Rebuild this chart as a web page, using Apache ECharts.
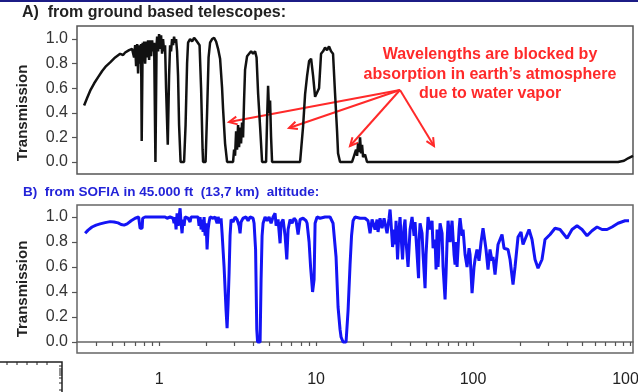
<!DOCTYPE html>
<html>
<head>
<meta charset="utf-8">
<script src="https://cdn.jsdelivr.net/npm/echarts@6/dist/echarts.min.js"></script>
<style>
  html, body { margin: 0; padding: 0; background: #fff; }
  #chart { width: 638px; height: 392px; }
</style>
</head>
<body>
<div id="chart"></div>
<script>
// panel A: ground based telescopes (wavelength in micron, transmission)
const aWave = [0.333, 0.348, 0.364, 0.386, 0.409, 0.434, 0.460, 0.488, 0.525, 0.565, 0.590, 0.608, 0.644, 0.673,
  0.683, 0.693, 0.704, 0.714, 0.725, 0.735, 0.746, 0.757, 0.768, 0.775, 0.786, 0.791, 0.803, 0.815, 0.827, 0.839,
  0.851, 0.864, 0.877, 0.890, 0.903, 0.916, 0.930, 0.948, 0.964, 0.972, 0.986, 1.000, 1.015, 1.030, 1.045, 1.060,
  1.076, 1.092, 1.108, 1.136, 1.158, 1.175, 1.192, 1.210, 1.228, 1.246, 1.264, 1.283, 1.302, 1.321, 1.341, 1.371,
  1.443, 1.475, 1.508, 1.530, 1.576, 1.623, 1.671, 1.721, 1.772, 1.811, 1.852, 1.893, 1.907, 1.978, 2.022, 2.067,
  2.113, 2.176, 2.241, 2.308, 2.376, 2.447, 2.520, 2.557, 2.633, 2.712, 2.961, 3.005, 3.049, 3.095, 3.140, 3.186,
  3.233, 3.281, 3.329, 3.378, 3.428, 3.479, 3.530, 3.636, 3.744, 3.856, 3.970, 4.089, 4.179, 4.273, 4.400, 4.531,
  4.805, 4.876, 4.948, 5.021, 5.095, 5.170, 5.247, 7.912, 8.268, 8.514, 8.768, 9.029, 9.298, 9.575, 9.86, 10.15,
  10.45, 10.76, 11.08, 11.41, 11.75, 12.10, 12.46, 12.83, 13.21, 13.61, 13.81, 14.22, 16.96, 17.46, 17.98, 18.25,
  18.52, 18.79, 19.07, 19.35, 19.64, 19.93, 20.52, 21.13, 839, 916, 972, 1045];
const aTrans = [0.46, 0.52, 0.58, 0.64, 0.69, 0.74, 0.78, 0.81, 0.85, 0.88, 0.87, 0.89, 0.91, 0.92,
  0.93, 0.85, 0.95, 0.78, 0.96, 0.72, 0.95, 0.80, 0.96, 0.17, 0.97, 0.82, 0.98, 0.80, 0.98, 0.85,
  0.99, 0.83, 0.99, 0.86, 0.99, 0.90, 0.97, 0.0, 0.95, 1.02, 0.90, 1.04, 0.92, 1.03, 0.88, 1.00,
  0.90, 0.95, 0.60, 0.14, 0.70, 0.95, 0.90, 1.00, 0.95, 1.02, 0.97, 1.00, 0.90, 0.70, 0.30, 0.0,
  0.0, 0.30, 0.80, 0.97, 1.00, 0.98, 1.01, 0.99, 1.00, 0.95, 0.60, 0.10, 0.0, 0.0, 0.40, 0.85,
  0.97, 1.00, 1.01, 0.98, 0.92, 0.84, 0.60, 0.43, 0.15, 0.0, 0.0, 0.10, 0.05, 0.25, 0.10, 0.30,
  0.12, 0.28, 0.15, 0.32, 0.20, 0.50, 0.75, 0.86, 0.88, 0.90, 0.88, 0.90, 0.85, 0.56, 0.29, 0.0,
  0.0, 0.35, 0.62, 0.40, 0.50, 0.20, 0.0, 0.0, 0.29, 0.55, 0.70, 0.82, 0.84, 0.70, 0.53, 0.52,
  0.60, 0.88, 0.90, 0.93, 0.91, 0.94, 0.90, 0.88, 0.56, 0.25, 0.07, 0.0, 0.0, 0.05, 0.10, 0.05,
  0.15, 0.08, 0.20, 0.07, 0.14, 0.04, 0.06, 0.0, 0.0, 0.01, 0.03, 0.05];

// panel B: SOFIA at 45.000 ft
const bWave = [0.338, 0.353, 0.374, 0.397, 0.421, 0.453, 0.488, 0.517, 0.548, 0.573, 0.599, 0.626, 0.664, 0.704,
  0.741, 0.752, 0.757, 0.780, 0.786, 0.815, 0.877, 0.944, 1.015, 1.092, 1.125, 1.153, 1.175, 1.228, 1.246, 1.264,
  1.283, 1.302, 1.321, 1.341, 1.361, 1.381, 1.401, 1.422, 1.443, 1.464, 1.530, 1.576, 1.599, 1.696, 1.772, 1.798,
  1.825, 1.852, 1.879, 1.907, 1.935, 1.964, 1.993, 2.022, 2.052, 2.082, 2.113, 2.208, 2.274, 2.342, 2.376, 2.447,
  2.483, 2.520, 2.595, 2.672, 2.712, 2.751, 2.792, 2.833, 2.875, 2.961, 3.049, 3.140, 3.233, 3.281, 3.329, 3.428,
  3.583, 3.689, 3.799, 3.970, 4.029, 4.119, 4.192, 4.241, 4.400, 4.465, 4.531, 4.598, 4.735, 4.876, 5.021, 5.170,
  5.324, 5.483, 5.564, 5.729, 5.900, 5.987, 6.166, 6.350, 6.510, 6.635, 6.833, 7.036, 7.245, 7.461, 7.683, 7.912,
  8.268, 8.640, 8.768, 9.029, 9.230, 9.504, 9.716, 9.86, 10.15, 10.60, 11.41, 12.28, 12.83, 13.41, 13.81, 14.22,
  14.43, 14.86, 15.53, 15.99, 16.47, 16.83, 17.21, 17.72, 19.07, 20.52, 21.44, 22.08, 22.74, 23.76, 24.47, 24.83,
  25.57, 26.33, 27.12, 28.33, 29.18, 29.61, 30.05, 30.72, 31.40, 31.86, 32.33, 33.05, 33.78, 34.28, 34.79, 35.57,
  36.36, 36.89, 37.44, 38.56, 39.70, 40.89, 42.11, 42.73, 44.98, 45.31, 45.98, 47.35, 48.05, 49.48, 50.21, 51.70,
  53.24, 54.83, 55.64, 57.29, 58.14, 59.00, 59.87, 61.66, 63.50, 64.43, 66.35, 67.33, 68.33, 69.34, 71.40, 73.52,
  75.71, 76.83, 77.97, 79.12, 81.48, 82.68, 85.14, 86.40, 88.97, 91.62, 94.35, 95.75, 98.6, 101.5, 103.0, 106.0,
  109.2, 110.8, 112.5, 115.8, 119.2, 121.0, 124.6, 128.3, 132.1, 134.1, 138.1, 144.3, 153.0, 157.6, 167.1, 172.1,
  179.8, 185.2, 193.5, 202.2, 208.2, 220.8, 227.4, 237.6, 248.3, 259.5, 275.1, 287.5, 309.5, 332.9, 358.3, 397.0,
  427.3, 459.8, 494.8, 532.4, 572.9, 616.6, 663.5, 714.0, 768.3, 839.0, 929.8, 986.0];
const bTrans = [0.87, 0.895, 0.92, 0.935, 0.945, 0.955, 0.963, 0.96, 0.953, 0.94, 0.935, 0.945, 0.97, 0.99,
  1.0, 0.99, 0.91, 0.91, 0.99, 1.0, 1.0, 1.0, 1.0, 1.0, 0.99, 0.975, 1.0, 0.99, 0.95, 1.0,
  0.9, 1.03, 0.93, 1.0, 1.07, 0.95, 0.87, 0.98, 0.93, 1.0, 0.99, 0.96, 1.0, 1.0, 1.0, 0.93,
  1.0, 0.9, 0.98, 0.88, 1.0, 0.85, 0.95, 0.74, 0.9, 0.96, 1.0, 0.99, 1.0, 0.95, 1.0, 0.95,
  0.99, 0.87, 0.6, 0.25, 0.11, 0.3, 0.55, 0.85, 0.98, 0.96, 1.0, 0.98, 0.93, 0.87, 0.96, 0.99,
  1.0, 0.97, 1.0, 0.99, 0.95, 0.74, 0.1, 0.0, 0.0, 0.5, 0.85, 0.95, 1.0, 0.97, 1.0, 0.95,
  1.0, 1.03, 0.93, 0.98, 0.79, 0.95, 0.98, 0.85, 0.66, 0.9, 0.98, 0.95, 0.99, 0.97, 0.86, 0.98,
  0.99, 0.97, 0.95, 0.8, 0.6, 0.4, 0.5, 0.95, 1.0, 0.99, 1.0, 1.0, 0.95, 0.68, 0.28, 0.1,
  0.04, 0.0, 0.0, 0.25, 0.62, 0.85, 0.97, 1.0, 0.99, 0.99, 0.97, 0.87, 0.98, 0.9, 0.98, 0.88,
  0.99, 0.91, 0.99, 0.87, 0.99, 1.06, 0.95, 0.76, 0.9, 0.78, 0.97, 0.66, 0.9, 1.0, 0.85, 0.66,
  0.92, 0.98, 0.8, 0.6, 0.9, 1.0, 0.85, 0.96, 0.51, 0.8, 0.95, 0.87, 0.7, 0.43, 0.7, 1.0,
  0.9, 0.97, 0.75, 0.82, 0.58, 0.9, 0.6, 0.95, 0.87, 0.6, 0.34, 0.55, 0.8, 0.97, 0.8, 0.97,
  0.7, 0.62, 0.8, 0.6, 0.9, 0.99, 0.85, 0.9, 0.7, 0.6, 0.75, 0.7, 0.39, 0.6, 0.66, 0.74,
  0.65, 0.72, 0.8, 0.91, 0.8, 0.74, 0.58, 0.74, 0.65, 0.68, 0.54, 0.78, 0.86, 0.75, 0.74, 0.66,
  0.46, 0.6, 0.84, 0.88, 0.78, 0.86, 0.9, 0.82, 0.66, 0.59, 0.66, 0.82, 0.86, 0.91, 0.9, 0.83,
  0.9, 0.93, 0.9, 0.85, 0.89, 0.92, 0.9, 0.9, 0.92, 0.95, 0.97, 0.97];

const yTicks = [0, 0.2, 0.4, 0.6, 0.8, 1.0];
const xLabels = [1, 10, 100, 1000];
const xTicks = [0.4, 0.5, 0.6, 0.7, 0.8, 0.9, 1, 2, 3, 4, 5, 6, 7, 8, 9, 10, 20, 30, 40, 50, 60, 70, 80, 90,
  100, 200, 300, 400, 500, 600, 700, 800, 900, 1000];

const FONT = '"Liberation Sans", Arial, sans-serif';
const RED = '#ff2a2a';

const chart = echarts.init(document.getElementById('chart'), null, { renderer: 'canvas' });

function pairs(xs, ys) {
  return xs.map((x, i) => [x, ys[i]]);
}

function yAxisFor(idx, min, max) {
  return {
    gridIndex: idx,
    type: 'value',
    min: min,
    max: max,
    axisLine: { show: false },
    axisTick: { show: true, length: 5, customValues: yTicks, lineStyle: { color: '#555', width: 1.2 } },
    axisLabel: {
      customValues: yTicks,
      formatter: (v) => Number(v).toFixed(1),
      fontSize: 16, color: '#333', margin: 9, fontFamily: FONT
    },
    splitLine: { show: false }
  };
}

// arrows from the note to the blocked bands
const arrowFrom = [400, 90];
const arrowTo = [[229, 122], [289, 128], [350, 146], [434, 146]];

function arrowGraphics() {
  const out = [];
  arrowTo.forEach(([x2, y2]) => {
    const [x1, y1] = arrowFrom;
    const a = Math.atan2(y2 - y1, x2 - x1);
    const L = 9, s = 0.45;
    out.push({ type: 'line', shape: { x1, y1, x2, y2 }, style: { stroke: RED, lineWidth: 2 } });
    out.push({
      type: 'polyline',
      shape: { points: [
        [x2 - L * Math.cos(a - s), y2 - L * Math.sin(a - s)],
        [x2, y2],
        [x2 - L * Math.cos(a + s), y2 - L * Math.sin(a + s)]
      ] },
      style: { stroke: RED, lineWidth: 2, fill: null }
    });
  });
  return out;
}

function txt(x, y, text, font, color, extra) {
  return Object.assign({
    type: 'text', x: x, y: y,
    style: { text: text, font: font, fill: color, align: 'left', verticalAlign: 'middle' }
  }, extra || {});
}

const X_MIN = 0.30, X_MAX = 1045;

// both panels share the same plot box; the 1000 label may run off the right edge
const gridBase = { left: 77, width: 556, height: 148, show: true, borderWidth: 1.5,
  backgroundColor: 'transparent', containLabel: false, outerBoundsMode: 'none' };

const option = {
  animation: false,
  textStyle: { fontFamily: FONT },
  grid: [
    Object.assign({}, gridBase, { top: 26, borderColor: '#555' }),
    Object.assign({}, gridBase, { top: 205, borderColor: '#666' })
  ],
  xAxis: [
    {
      gridIndex: 0, type: 'log', min: X_MIN, max: X_MAX,
      axisLine: { show: false }, axisTick: { show: false }, axisLabel: { show: false }, splitLine: { show: false }
    },
    {
      gridIndex: 1, type: 'log', min: X_MIN, max: X_MAX,
      axisLine: { show: true, lineStyle: { color: '#666', width: 1.5 } },
      axisTick: { show: true, length: 4, customValues: xTicks, lineStyle: { color: '#555', width: 1.2 } },
      axisLabel: {
        customValues: xLabels,
        formatter: (v) => String(Math.round(v)),
        fontSize: 16, color: '#222', margin: 19, fontFamily: FONT
      },
      splitLine: { show: false }
    }
  ],
  yAxis: [
    yAxisFor(0, -0.098, 1.106),
    yAxisFor(1, -0.088, 1.096)
  ],
  series: [
    {
      type: 'line', xAxisIndex: 0, yAxisIndex: 0,
      data: pairs(aWave, aTrans),
      showSymbol: false, symbol: 'none',
      lineStyle: { color: '#111', width: 2.5 }
    },
    {
      type: 'line', xAxisIndex: 1, yAxisIndex: 1,
      data: pairs(bWave, bTrans),
      showSymbol: false, symbol: 'none',
      lineStyle: { color: '#1414f5', width: 3 }
    }
  ],
  graphic: [
    // thin navy rule at the top of the slide
    { type: 'rect', shape: { x: 0, y: 0, width: 638, height: 2 }, style: { fill: '#1c1c86' } },
    txt(22, 13, 'A)  from ground based telescopes:', 'bold 16px ' + FONT, '#222'),
    txt(23, 192, 'B)  from SOFIA in 45.000 ft  (13,7 km)  altitude:', 'bold 13.5px ' + FONT, '#2323d8'),
    txt(23, 113, 'Transmission', 'bold 15px ' + FONT, '#222', { rotation: Math.PI / 2 }),
    txt(23, 289, 'Transmission', 'bold 15px ' + FONT, '#222', { rotation: Math.PI / 2 }),
    {
      type: 'text', x: 490, y: 45,
      style: {
        text: 'Wavelengths are blocked by\nabsorption in earth\u2019s atmosphere\ndue to water vapor',
        font: 'bold 16px ' + FONT, fill: RED, align: 'center', verticalAlign: 'top',
        lineHeight: 19.5
      }
    },
    ...arrowGraphics(),
    // corner of the next figure peeking in at bottom left
    { type: 'polyline', shape: { points: [[0, 362], [62, 362], [62, 392]] }, style: { stroke: '#222', lineWidth: 1.5, fill: null } },
    { type: 'group', children: [7, 17, 27, 37, 47].map((x) => ({
      type: 'line', shape: { x1: x, y1: 362, x2: x, y2: 365 }, style: { stroke: '#222', lineWidth: 1 }
    })).concat([366, 369, 371, 373, 375, 378, 383, 390].map((y) => ({
      type: 'line', shape: { x1: 59, y1: y, x2: 62, y2: y }, style: { stroke: '#222', lineWidth: 1 }
    }))) }
  ]
};

// rotated axis titles are centred on their anchor
option.graphic.forEach((g) => {
  if (g.rotation) { g.style.align = 'center'; }
});

chart.setOption(option);
</script>
</body>
</html>
